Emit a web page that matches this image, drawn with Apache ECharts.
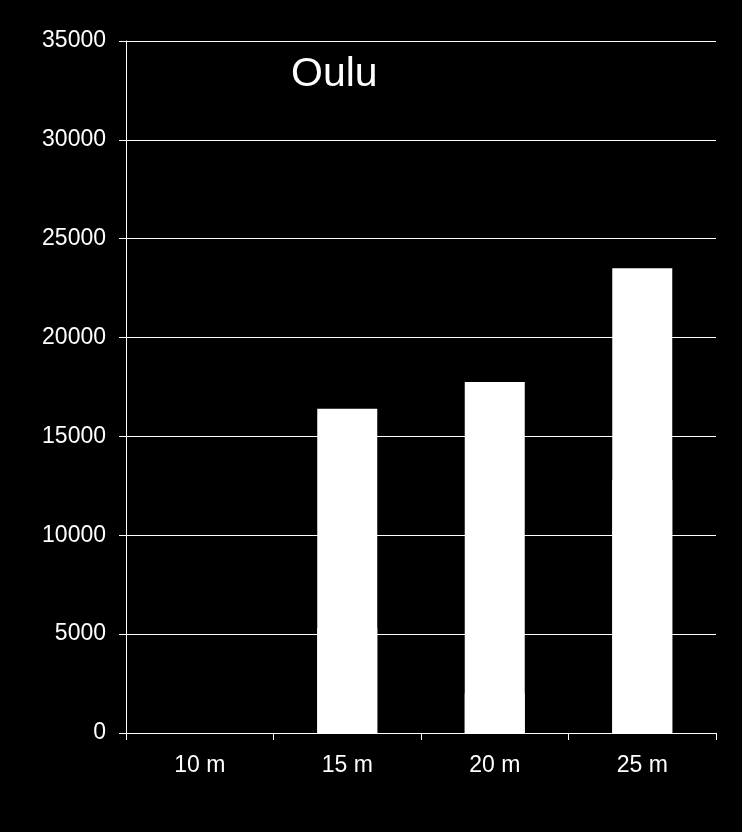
<!DOCTYPE html>
<html>
<head>
<meta charset="utf-8">
<script src="https://cdn.jsdelivr.net/npm/echarts@6/dist/echarts.min.js"></script>
<style>
  html, body { margin:0; padding:0; background:#000; }
  #main { width:742px; height:832px; }
</style>
</head>
<body>
<div id="main"></div>
<script>
var categories = ['10 m', '15 m', '20 m', '25 m'];
// 10 m has no bar in the picture
var lowerValues = ['-', 5300, 2000, 12800];
var upperValues = ['-', 16400, 17750, 23500];
var yTicks = { min: 0, max: 35000, interval: 5000 };

var chart = echarts.init(document.getElementById('main'));
var font = 'Liberation Sans, Arial, sans-serif';
var option = {
  backgroundColor:'#000',
  animation:false,
  title:{
    text:'Oulu', left:286, top:49,
    textStyle:{ color:'#fff', fontFamily:font, fontSize:41, fontWeight:'normal' }
  },
  grid:{ left:126, right:26, top:41, bottom:99 },
  xAxis:{
    type:'category',
    data:categories,
    boundaryGap:true,
    axisLine:{ lineStyle:{ color:'#fff', width:1 } },
    axisTick:{ show:true, alignWithLabel:false, length:7, lineStyle:{ color:'#fff' } },
    axisLabel:{ color:'#fff', fontFamily:font, fontSize:23, margin:21 }
  },
  yAxis:{
    type:'value',
    min:yTicks.min, max:yTicks.max, interval:yTicks.interval,
    axisLine:{ show:true, lineStyle:{ color:'#fff', width:1 } },
    axisTick:{ show:true, length:7, lineStyle:{ color:'#fff' } },
    axisLabel:{ color:'#fff', fontFamily:font, fontSize:23, margin:20,
      formatter:function (v) { return String(v); } },
    splitLine:{ show:true, lineStyle:{ color:'#fff', width:1 } }
  },
  series:[
    {
      name:'upper', type:'bar', data:upperValues, barWidth:60, barGap:'-100%',
      itemStyle:{ color:'#fff' }, z:2
    },
    {
      // slightly wider bottom block, like the reference
      name:'lower', type:'bar', data:lowerValues, barWidth:60, barGap:'-100%',
      itemStyle:{ color:'#fff', borderColor:'#fff', borderWidth:2 }, z:3
    }
  ]
};
chart.setOption(option);
</script>
</body>
</html>
